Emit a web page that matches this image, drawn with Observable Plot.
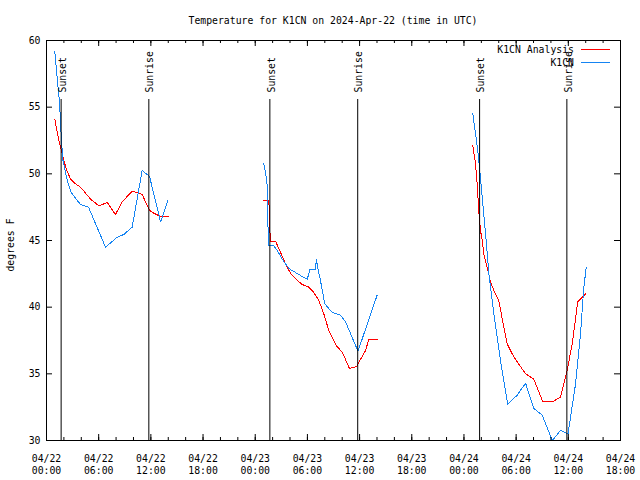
<!DOCTYPE html>
<html><head><meta charset="utf-8">
<script src="https://cdn.jsdelivr.net/npm/d3@7"></script>
<script src="https://cdn.jsdelivr.net/npm/@observablehq/plot@0.6"></script>
<style>body{margin:0;background:#fff}</style>
</head><body><div id="chart"></div>
<script>
const title = "Temperature for K1CN on 2024-Apr-22 (time in UTC)";
const yLabel = "degrees F";
const seriesNames = ["K1CN Analysis", "K1CN"];
const seriesColors = ["#ff0000", "#1584f2"];
const days = ["2024-04-22", "2024-04-23", "2024-04-24"];

const analysisTime = [
  ["00:57","01:25","01:50","02:18","02:46","03:20","03:55","05:04","06:02","06:59","07:56","08:42","09:51","11:00","11:51","12:20","13:07","13:59"],
  ["00:59","01:34","01:44","02:20","02:55","03:29","04:03","04:50","05:24","06:10","06:44","07:19","07:53","08:28","09:21","10:02","10:50","11:39","12:41","13:04","14:01"],
  ["01:01","01:20","01:31","01:42","01:54","02:06","02:17","02:40","03:03","03:26","04:00","04:35","04:58","05:33","06:07","07:05","08:02","09:04","10:09","11:06","11:52","12:27","13:05","13:36","13:59"]
];
const analysisTemp = [
  [54.1,52.5,51.4,50.3,49.6,49.25,49.0,48.1,47.6,47.85,46.95,47.9,48.7,48.45,47.25,47.05,46.8,46.8],
  [48.0,48.0,44.95,44.95,44.1,43.25,42.55,42.0,41.7,41.5,41.1,40.5,39.5,38.25,37.1,36.6,35.4,35.55,36.75,37.6,37.6],
  [52.1,50.75,49.25,47.25,45.75,45.0,44.0,43.0,41.9,41.25,40.5,38.5,37.25,36.5,35.9,35.0,34.6,32.9,32.9,33.25,35.25,37.25,40.4,40.75,41.0]
];
const stationTime = [
  ["00:57","01:09","01:30","01:43","01:54","02:23","02:50","03:32","03:55","04:50","06:47","08:08","08:53","09:51","11:00","11:51","13:07","13:59"],
  ["00:59","01:11","01:23","01:29","01:34","02:08","02:32","03:06","03:52","04:38","05:24","05:59","06:17","06:56","07:01","07:10","07:30","08:00","08:51","09:48","10:23","11:49","14:01"],
  ["01:01","01:20","01:35","01:47","02:06","02:29","02:52","03:26","04:12","05:02","06:07","07:05","08:02","09:00","10:09","11:06","11:58","12:50","13:24","13:47","14:04"]
];
const stationTemp = [
  [59.2,57.75,55.3,52.5,51.0,49.5,48.6,48.0,47.7,47.5,44.5,45.25,45.45,46.0,50.25,49.8,46.4,48.05],
  [50.75,50.1,49.1,45.55,44.6,44.6,44.25,43.6,42.9,42.6,42.3,42.1,42.8,42.8,43.6,43.05,42.0,40.25,39.6,39.4,38.9,36.7,40.9],
  [54.5,53.0,51.75,50.5,48.25,45.5,42.5,39.5,36.0,32.7,33.4,34.3,32.4,31.9,30.0,30.75,30.5,34.25,38.0,41.5,43.0]
];

const sunTime = ["2024-04-22T01:41Z","2024-04-22T11:46Z","2024-04-23T01:41Z","2024-04-23T11:47Z","2024-04-24T01:48Z","2024-04-24T11:50Z"];
const sunLabel = ["Sunset","Sunrise","Sunset","Sunrise","Sunset","Sunrise"];

const xTicks = ["2024-04-22T00:00Z","2024-04-22T06:00Z","2024-04-22T12:00Z","2024-04-22T18:00Z",
  "2024-04-23T00:00Z","2024-04-23T06:00Z","2024-04-23T12:00Z","2024-04-23T18:00Z",
  "2024-04-24T00:00Z","2024-04-24T06:00Z","2024-04-24T12:00Z","2024-04-24T18:00Z"];
const yTicks = [30, 35, 40, 45, 50, 55, 60];

function rows(times, temps) {
  const out = [];
  times.forEach((seg, i) => seg.forEach((t, j) => out.push({time: new Date(days[i] + "T" + t + "Z"), temp: temps[i][j], seg: i})));
  return out;
}
const analysisRows = rows(analysisTime, analysisTemp);
const stationRows = rows(stationTime, stationTemp);
const sunRows = sunTime.map((t, i) => ({time: new Date(t), label: sunLabel[i]}));
const xTickDates = xTicks.map(d => new Date(d));
const x0 = xTickDates[0], x1 = xTickDates[xTickDates.length - 1];
const minorTicks = d3.utcHour.every(2).range(x0, new Date(+x1 + 1));

const plot = Plot.plot({
  width: 640, height: 480,
  marginTop: 40, marginBottom: 40, marginLeft: 46, marginRight: 20,
  style: {fontFamily: "'DejaVu Sans Mono', monospace", fontSize: "9.8px", background: "#fff", color: "#000"},
  x: {type: "utc", domain: [x0, x1]},
  y: {domain: [30, 60]},
  marks: [
    Plot.line(analysisRows, {x: "time", y: "temp", z: "seg", stroke: seriesColors[0], strokeWidth: 1, shapeRendering: "crispEdges"}),
    Plot.line(stationRows, {x: "time", y: "temp", z: "seg", stroke: seriesColors[1], strokeWidth: 1, shapeRendering: "crispEdges"}),
    Plot.ruleX(sunRows, {x: "time", insetTop: 59, stroke: "#000"}),
    Plot.text(sunRows, {x: "time", text: "label", frameAnchor: "top", rotate: -90, textAnchor: "start", lineAnchor: "middle", dy: 52, dx: 1.5, fill: "#000"}),
    Plot.ruleX(minorTicks, {insetTop: 397, stroke: "#000"}),
    Plot.ruleX(minorTicks, {insetBottom: 397, stroke: "#000"}),
    Plot.ruleX(xTickDates, {insetTop: 394, stroke: "#000"}),
    Plot.ruleX(xTickDates, {insetBottom: 394, stroke: "#000"}),
    Plot.ruleY(yTicks, {insetRight: 568, stroke: "#000"}),
    Plot.ruleY(yTicks, {insetLeft: 568, stroke: "#000"}),
    Plot.axisX(xTickDates, {tickSize: 0, tickPadding: 13, lineHeight: 1.2, label: null, tickFormat: d3.utcFormat("%m/%d\n%H:%M")}),
    Plot.axisY(yTicks, {tickSize: 0, tickPadding: 6, label: null}),
    Plot.frame({stroke: "#000"})
  ]
});

const svg = d3.select(plot);
svg.append("text").attr("x", 333).attr("y", 24).attr("text-anchor", "middle").attr("fill", "#000").text(title);
svg.append("text").attr("transform", "translate(13.5,245) rotate(-90)").attr("text-anchor", "middle").attr("fill", "#000").text(yLabel);
seriesNames.forEach((n, i) => {
  const y = 49 + i * 13.3;
  svg.append("text").attr("x", 574).attr("y", y + 3.5).attr("text-anchor", "end").attr("fill", "#000").text(n);
  svg.append("line").attr("x1", 581).attr("x2", 610).attr("y1", Math.round(y) + 0.5).attr("y2", Math.round(y) + 0.5).attr("stroke", seriesColors[i]).attr("stroke-width", 1);
});
document.getElementById("chart").appendChild(plot);
</script>
</body></html>
